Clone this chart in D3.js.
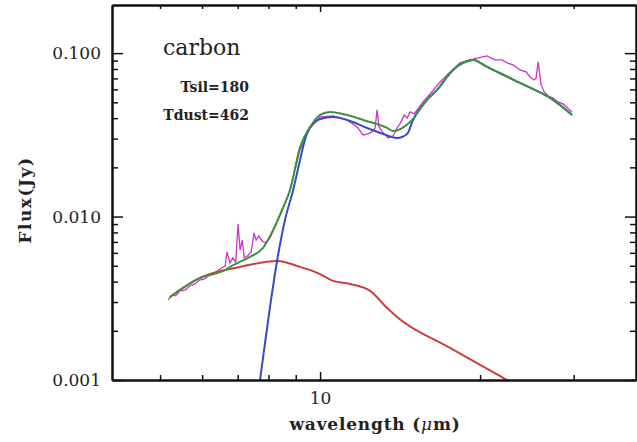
<!DOCTYPE html>
<html>
<head>
<meta charset="utf-8">
<script src="https://cdn.jsdelivr.net/npm/d3@7"></script>
<style>
  body { margin: 0; background: #fff; }
  svg { display: block; }
  text { font-family: "DejaVu Serif", "Liberation Serif", serif; fill: #222; }
</style>
</head>
<body>
<div class="canvas"></div>
<script>
// chart size and plot frame
const width = 637;
const height = 442;
const marginTop = 5;
const marginRight = 1;
const marginBottom = 62;
const marginLeft = 112;

// observed spectrum (wavelength um, flux Jy)
const obsWave = [5.18, 5.26, 5.35, 5.45, 5.57, 5.69, 5.81, 5.94, 6.07, 6.21, 6.34, 6.48, 6.63, 6.68, 6.77,
  6.85, 6.94, 7.01, 7.07, 7.14, 7.20, 7.30, 7.42, 7.51, 7.58, 7.67, 7.78, 7.88, 8.05, 8.16, 8.48, 8.78,
  9.17, 9.58, 10.0, 10.58, 11.24, 11.74, 12.05, 12.31, 12.53, 12.69, 12.80, 12.91, 13.14, 13.43, 13.72,
  13.96, 14.20, 14.39, 14.58, 14.77, 15.03, 15.29, 15.62, 16.11, 16.82, 17.56, 18.34, 19.15, 19.83,
  20.62, 21.34, 21.99, 22.48, 23.08, 23.78, 24.41, 24.84, 25.27, 25.49, 25.72, 26.05, 26.40, 26.85,
  27.44, 28.04, 28.66, 29.29, 29.79];
const obsFlux = [0.00309, 0.00331, 0.00327, 0.00351, 0.00355, 0.00376, 0.00387, 0.00409, 0.00415, 0.00445,
  0.00452, 0.00478, 0.00499, 0.00607, 0.00520, 0.00558, 0.00528, 0.00901, 0.00625, 0.00719, 0.00558,
  0.00574, 0.00607, 0.00794, 0.00719, 0.00761, 0.00709, 0.00689, 0.00740, 0.00816, 0.01082, 0.01455,
  0.02556, 0.03484, 0.04069, 0.04127, 0.03902, 0.03534, 0.03158, 0.03203, 0.03294, 0.03484, 0.04491,
  0.03534, 0.03248, 0.03027, 0.03113, 0.03484, 0.03793, 0.04186, 0.04012, 0.04367, 0.04245, 0.04581,
  0.05028, 0.05626, 0.06664, 0.07674, 0.08710, 0.09086, 0.09346, 0.09613, 0.09086, 0.09086, 0.08710,
  0.08469, 0.07893, 0.07674, 0.07150, 0.06855, 0.07053, 0.08833, 0.06389, 0.05789, 0.05472, 0.05318,
  0.05028, 0.04889, 0.04581, 0.04367];

// stellar / hot dust component
const hotWave = [5.22, 5.94, 7.07, 8.30, 9.17, 10.0, 10.58, 11.39, 12.42, 13.37, 13.96, 17.56, 22.48, 24.8];
const hotFlux = [0.00322, 0.00421, 0.00492, 0.00535, 0.00492, 0.00445, 0.00404, 0.00387, 0.00351,
  0.00276, 0.00243, 0.00157, 0.00100, 0.00083];

// carbon dust component
const carbWave = [7.55, 7.71, 8.05, 8.30, 8.59, 8.90, 9.17, 9.45, 9.70, 10.0, 10.58, 11.39, 12.26, 13.14,
  13.96, 14.58, 14.96, 15.89, 16.60, 17.79, 18.58, 19.41, 20.62, 23.78, 27.44, 29.79];
const carbFlux = [0.00061, 0.00100, 0.00280, 0.00535, 0.00953, 0.01455, 0.02221, 0.03248, 0.03690, 0.03957,
  0.04069, 0.03847, 0.03484, 0.03203, 0.03027, 0.03203, 0.03902, 0.05172, 0.05954, 0.07893, 0.08710,
  0.09086, 0.08234, 0.06570, 0.05172, 0.04186];

// total model
const totWave = [5.22, 5.94, 6.63, 6.77, 7.38, 7.81, 8.16, 8.48, 8.78, 9.17, 9.58, 10.0, 10.44, 11.24,
  12.05, 13.37, 13.72, 14.77, 15.89, 16.60, 17.79, 18.58, 19.41, 20.62, 23.78, 27.44, 29.79];
const totFlux = [0.00322, 0.00421, 0.00471, 0.00492, 0.00566, 0.00643, 0.00828, 0.01100, 0.01455, 0.02667,
  0.03534, 0.04186, 0.04367, 0.04186, 0.03902, 0.03484, 0.03340, 0.03793, 0.05172, 0.05954, 0.07893,
  0.08710, 0.09086, 0.08234, 0.06570, 0.05172, 0.04186];

// ticks
const yMajor = [0.001, 0.01, 0.1];
const yMinor = [0.002, 0.003, 0.004, 0.005, 0.006, 0.007, 0.008, 0.009,
  0.02, 0.03, 0.04, 0.05, 0.06, 0.07, 0.08, 0.09];
const xMajor = [10];
const xMinor = [5, 6, 7, 8, 9, 20, 30];

const zip = (xs, ys) => xs.map((v, i) => ({ w: v, f: ys[i] }));

const x = d3.scaleLog()
  .domain([4.06, 39.3])
  .range([marginLeft, width - marginRight]);

const y = d3.scaleLog()
  .domain([0.001, 0.197])
  .range([height - marginBottom, marginTop]);

const svg = d3.select(".canvas").append("svg")
  .attr("width", width)
  .attr("height", height);

svg.append("clipPath").attr("id", "clip")
  .append("rect")
  .attr("x", marginLeft).attr("y", marginTop)
  .attr("width", width - marginLeft - marginRight)
  .attr("height", height - marginTop - marginBottom);

const plot = svg.append("g").attr("clip-path", "url(#clip)");

const smooth = d3.line().x(d => x(d.w)).y(d => y(d.f)).curve(d3.curveMonotoneX);
const rough = d3.line().x(d => x(d.w)).y(d => y(d.f));

// observed spectrum first, models over it
plot.append("path")
  .attr("d", rough(zip(obsWave, obsFlux)))
  .attr("fill", "none").attr("stroke", "#cc33cc").attr("stroke-width", 1.3);

const models = [
  { wave: hotWave, flux: hotFlux, color: "#e04040" },
  { wave: carbWave, flux: carbFlux, color: "#3a4fd8" },
  { wave: totWave, flux: totFlux, color: "#3f9f3f" }
];

models.forEach(m => {
  const d = smooth(zip(m.wave, m.flux));
  plot.append("path").attr("d", d)
    .attr("fill", "none").attr("stroke", m.color).attr("stroke-width", 2);
  plot.append("path").attr("d", d)
    .attr("fill", "none").attr("stroke", "#223").attr("stroke-width", 0.7)
    .attr("stroke-dasharray", "2,2").attr("opacity", 0.5);
});

// axes (ticks point inward)
const inner = height - marginBottom;
function styleAxis(g) {
  g.select(".domain").attr("stroke", "#111").attr("stroke-width", 2);
  g.selectAll(".tick line").attr("stroke", "#111").attr("stroke-width", 1.5);
  g.selectAll("text").style("font-size", "17px").attr("fill", "#222");
}

svg.append("g").attr("transform", `translate(${marginLeft},0)`)
  .call(d3.axisLeft(y).tickValues(yMinor).tickSize(-6).tickFormat("").tickSizeOuter(0))
  .call(styleAxis);
svg.append("g").attr("transform", `translate(${marginLeft},0)`)
  .call(d3.axisLeft(y).tickValues(yMajor).tickSize(-11).tickPadding(11)
    .tickFormat(d3.format(".3f")).tickSizeOuter(0))
  .call(styleAxis);

svg.append("g").attr("transform", `translate(${width - marginRight},0)`)
  .call(d3.axisRight(y).tickValues(yMinor).tickSize(-6).tickFormat("").tickSizeOuter(0))
  .call(styleAxis);
svg.append("g").attr("transform", `translate(${width - marginRight},0)`)
  .call(d3.axisRight(y).tickValues(yMajor).tickSize(-11).tickFormat("").tickSizeOuter(0))
  .call(styleAxis);

svg.append("g").attr("transform", `translate(0,${inner})`)
  .call(d3.axisBottom(x).tickValues(xMinor).tickSize(-5).tickFormat("").tickSizeOuter(0))
  .call(styleAxis);
svg.append("g").attr("transform", `translate(0,${inner})`)
  .call(d3.axisBottom(x).tickValues(xMajor).tickSize(-8).tickPadding(12)
    .tickFormat(d3.format("d")).tickSizeOuter(0))
  .call(styleAxis);

svg.append("g").attr("transform", `translate(0,${marginTop})`)
  .call(d3.axisTop(x).tickValues(xMinor).tickSize(-4).tickFormat("").tickSizeOuter(0))
  .call(styleAxis);
svg.append("g").attr("transform", `translate(0,${marginTop})`)
  .call(d3.axisTop(x).tickValues(xMajor).tickSize(-7).tickFormat("").tickSizeOuter(0))
  .call(styleAxis);

// axis titles
svg.append("text")
  .attr("x", 375).attr("y", 430)
  .attr("text-anchor", "middle")
  .style("font-size", "17px").style("font-weight", "bold").style("letter-spacing", "0.8px")
  .html('wavelength (<tspan font-style="italic" font-weight="normal">μ</tspan>m)');

svg.append("text")
  .attr("transform", "translate(31,200) rotate(-90)")
  .attr("text-anchor", "middle")
  .style("font-size", "17px").style("font-weight", "bold").style("letter-spacing", "1.5px")
  .text("Flux(Jy)");

// annotations
svg.append("text")
  .attr("x", 163).attr("y", 55)
  .style("font-size", "22px")
  .text("carbon");
svg.append("text")
  .attr("x", 249).attr("y", 92)
  .attr("text-anchor", "end")
  .style("font-size", "14px").style("font-weight", "bold")
  .text("Tsil=180");
svg.append("text")
  .attr("x", 249).attr("y", 120)
  .attr("text-anchor", "end")
  .style("font-size", "14px").style("font-weight", "bold")
  .text("Tdust=462");
</script>
</body>
</html>
